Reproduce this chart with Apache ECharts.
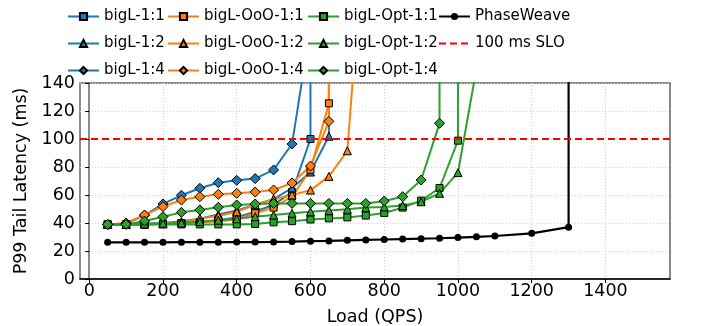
<!DOCTYPE html>
<html>
<head>
<meta charset="utf-8">
<script src="https://cdn.jsdelivr.net/npm/echarts@6/dist/echarts.min.js"></script>
<style>
  html, body { margin: 0; padding: 0; background: #fff; }
  #chart { width: 712px; height: 326px; }
</style>
</head>
<body>
<div id="chart"></div>
<script>
// load steps (QPS)
const steps = [50, 100, 150, 200, 250, 300, 350, 400, 450, 500, 550, 600, 650, 700, 750, 800, 850, 900, 950, 1000, 1050, 1100];
const SAT = 1000; // off-scale value used where a curve shoots straight up

const bigL11 = [39, 39, 39, 39.5, 40, 40.5, 42, 44, 48, 53, 62, 100];
const bigL12 = [39, 39, 39.5, 40, 41, 43, 46, 49, 53, 57, 65, 76.4, 102];
const bigL14 = [39, 39.5, 45.5, 53.6, 59.8, 64.8, 68.8, 70.5, 71.7, 77.9, 96.4, 180];
const ooo11 = [39, 39, 39, 39.5, 40, 40.5, 41, 42.5, 47, 51, 59, 78, 125.5];
const ooo12 = [39, 39, 39.3, 39.5, 40, 43.3, 45, 48, 53, 57, 60, 63.5, 73.3, 91.6, 264];
const ooo14 = [39, 40, 45.7, 51.7, 56.4, 58.8, 60.5, 61.2, 62.1, 63.6, 68.6, 80.7, 112.6];
const opt11 = [39, 39, 39, 39, 39, 39, 39, 39, 39.3, 40.5, 41.3, 42.5, 43.3, 44, 45.3, 47.2, 51, 56, 65, 98.8];
const opt12 = [39, 39, 39.3, 39.8, 40, 41, 42, 43, 44.5, 45.7, 47, 48, 49, 49.8, 51, 51.5, 52.5, 55.2, 61.2, 76, 150];
const opt14 = [39, 39, 41.4, 44.5, 47.6, 49.3, 51.2, 52.9, 53.6, 54, 54, 54, 54, 54, 54, 55.7, 58.8, 70.7, 111.2];

const pwLoads = [50, 100, 150, 200, 250, 300, 350, 400, 450, 500, 550, 600, 650, 700, 750, 800, 850, 900, 950, 1000, 1050, 1100, 1200, 1300];
const pwLat = [26.2, 26.2, 26.2, 26.2, 26.3, 26.3, 26.3, 26.4, 26.4, 26.5, 26.7, 27, 27.2, 27.6, 27.9, 28.2, 28.5, 28.8, 29.1, 29.6, 30.1, 30.7, 32.6, 37];

const sloValue = 100;
const xTicks = [0, 200, 400, 600, 800, 1000, 1200, 1400];

const blue = "#1f77b4", orange = "#ff7f0e", green = "#2ca02c";

// pair loads with values; saturate = add a marker-less point straight above the last one
function pts(loads, vals, saturate) {
  const out = vals.map((v, i) => [loads[i], v]);
  if (saturate) out.push({ value: [loads[vals.length - 1], SAT], symbol: "none" });
  return out;
}

function mk(name, color, symbol, size, data) {
  return {
    name,
    type: "line",
    data,
    symbol,
    symbolSize: size,
    clip: true,
    lineStyle: { width: 2, color },
    itemStyle: { color, borderColor: "#000", borderWidth: 1 },
    emphasis: { disabled: true },
    z: 2,
  };
}

const series = [
  mk("bigL-1:1", blue, "rect", 7, pts(steps, bigL11, true)),
  mk("bigL-1:2", blue, "triangle", 8, pts(steps, bigL12, true)),
  mk("bigL-1:4", blue, "diamond", 10, pts(steps, bigL14, false)),
  mk("bigL-OoO-1:1", orange, "rect", 7, pts(steps, ooo11, true)),
  mk("bigL-OoO-1:2", orange, "triangle", 8, pts(steps, ooo12, false)),
  mk("bigL-OoO-1:4", orange, "diamond", 10, pts(steps, ooo14, true)),
  mk("bigL-Opt-1:1", green, "rect", 7, pts(steps, opt11, true)),
  mk("bigL-Opt-1:2", green, "triangle", 8, pts(steps, opt12, false)),
  mk("bigL-Opt-1:4", green, "diamond", 10, pts(steps, opt14, true)),
  {
    name: "PhaseWeave",
    type: "line",
    data: pts(pwLoads, pwLat, true),
    symbol: "circle",
    symbolSize: 7,
    lineStyle: { width: 2.2, color: "#000" },
    itemStyle: { color: "#000", borderWidth: 0 },
    emphasis: { disabled: true },
    z: 3,
  },
  {
    name: "100 ms SLO",
    type: "line",
    data: [[-25, sloValue], [1575, sloValue]],
    symbol: "circle",
    showSymbol: false,
    lineStyle: { width: 2.2, color: "#ff0000", type: [7, 4] },
    itemStyle: { color: "rgba(0,0,0,0)", borderWidth: 0 },
    emphasis: { disabled: true },
    z: 4,
  },
];

const legendText = { fontFamily: "DejaVu Sans", fontSize: 15, color: "#000" };

function col(left, names) {
  return {
    orient: "vertical",
    left,
    top: 9,
    padding: 0,
    itemWidth: 31,
    itemHeight: 9,
    itemGap: 12,
    selectedMode: false,
    textStyle: legendText,
    data: names,
  };
}

const chart = echarts.init(document.getElementById("chart"), null, { renderer: "canvas" });
chart.setOption({
  animation: false,
  backgroundColor: "#fff",
  textStyle: { fontFamily: "DejaVu Sans" },
  legend: [
    col(67, ["bigL-1:1", "bigL-1:2", "bigL-1:4"]),
    col(167, ["bigL-OoO-1:1", "bigL-OoO-1:2", "bigL-OoO-1:4"]),
    col(307, ["bigL-Opt-1:1", "bigL-Opt-1:2", "bigL-Opt-1:4"]),
    col(438, ["PhaseWeave", "100 ms SLO"]),
  ],
  grid: {
    left: 80, right: 42, top: 83, bottom: 47,
    outerBoundsMode: "none",
    containLabel: false,
    show: true, borderColor: "#666", borderWidth: 1.5,
  },
  xAxis: {
    type: "value",
    min: -25,
    max: 1575,
    name: "Load (QPS)",
    nameLocation: "middle",
    nameGap: 29,
    nameTextStyle: { fontSize: 17.5, color: "#000" },
    axisLine: { onZero: false, lineStyle: { color: "#000", width: 1.5 } },
    axisTick: { show: true, length: 4, customValues: xTicks, lineStyle: { color: "#000" } },
    axisLabel: { customValues: xTicks, fontSize: 17.5, color: "#000", margin: 3, formatter: (v) => String(v) },
    splitLine: { show: true, lineStyle: { color: "#d0d0d0", type: [1, 2], width: 1 } },
  },
  yAxis: {
    type: "value",
    min: 0,
    max: 140,
    interval: 20,
    name: "P99 Tail Latency (ms)",
    nameLocation: "middle",
    nameGap: 40,
    nameTextStyle: { fontSize: 17.5, color: "#000" },
    axisLine: { show: true, lineStyle: { color: "#666", width: 1.5 } },
    axisTick: { show: true, length: 4, lineStyle: { color: "#000" } },
    axisLabel: { fontSize: 17.5, color: "#000", margin: 5 },
    splitLine: { show: true, lineStyle: { color: "#d0d0d0", type: [1, 2], width: 1 } },
  },
  series,
});
</script>
</body>
</html>
